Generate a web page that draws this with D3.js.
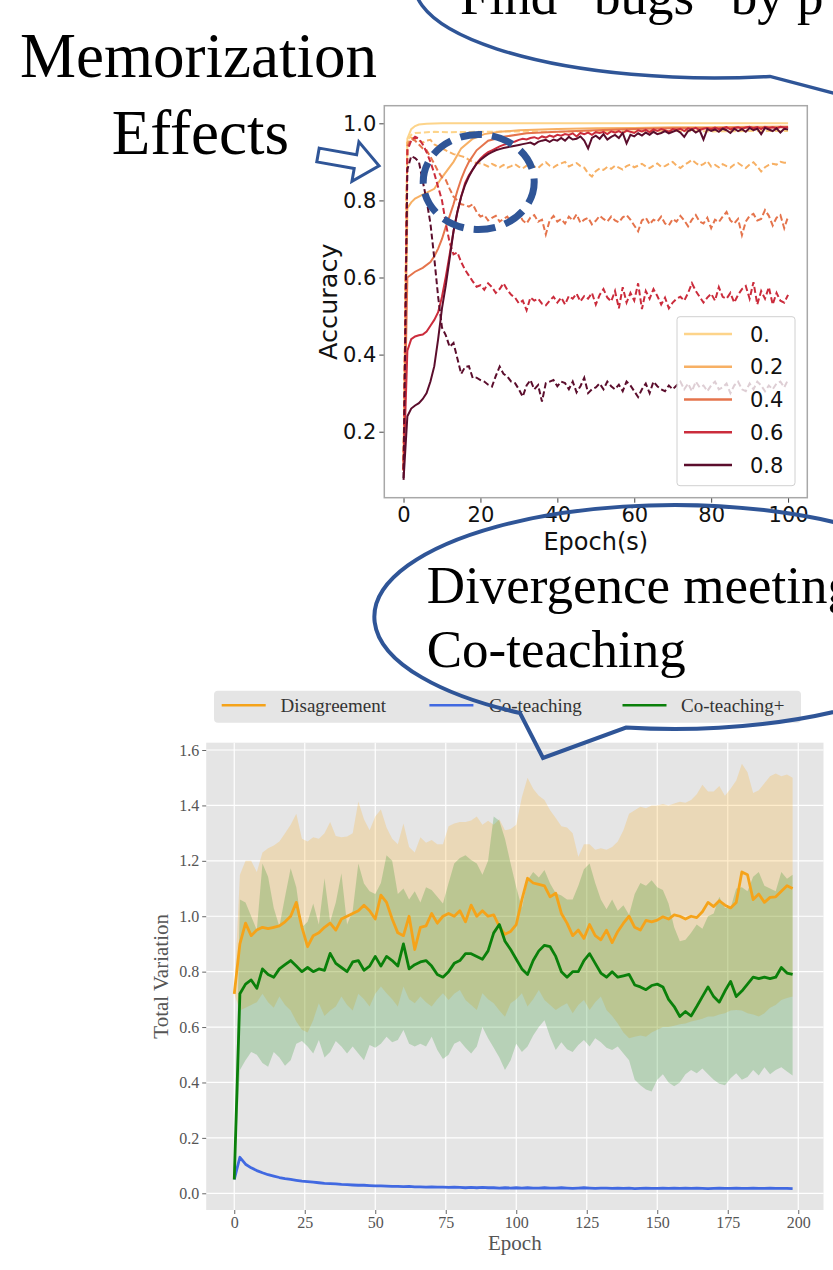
<!DOCTYPE html>
<html>
<head>
<meta charset="utf-8">
<script src="https://d3js.org/d3.v7.min.js"></script>
<style>
  body { margin: 0; background: #fff; }
  svg { display: block; }
</style>
</head>
<body>
<div id="slide"></div>
<script>
/*
 * Top plot: accuracy vs epoch for several noise rates (solid = train, dashed = test)
 */
var noiseRates = ["0.", "0.2", "0.4", "0.6", "0.8"];
var accTicksX = [0, 20, 40, 60, 80, 100];
var accTicksY = [0.2, 0.4, 0.6, 0.8, 1.0];

// sparse [epoch, accuracy] pairs for the smooth curves
var trainAcc00 = [[0,0.12],[1,0.96],[2,0.985],[3,0.993],[4,0.997],[6,0.999],[10,1.0],[100,1.0]];
var trainAcc02 = [[0,0.10],[1,0.78],[2,0.795],[3,0.805],[5,0.815],[8,0.83],[10,0.86],[13,0.90],[15,0.935],[18,0.96],[21,0.972],[25,0.978],[30,0.982],[40,0.985],[50,0.987],[60,0.988],[70,0.99],[80,0.99],[90,0.991],[100,0.992]];
var trainAcc04 = [[0,0.10],[1,0.60],[3,0.615],[5,0.625],[7,0.64],[8,0.655],[9,0.675],[10,0.70],[11,0.732],[12,0.76],[13,0.79],[14,0.825],[15,0.855],[16,0.88],[17,0.90],[19,0.93],[22,0.955],[26,0.965],[32,0.974],[40,0.978],[50,0.982],[60,0.985],[70,0.987],[80,0.988],[90,0.989],[100,0.99]];
var testAcc00 = [[0,0.12],[1,0.955],[2,0.97],[3,0.975],[5,0.976],[8,0.978],[12,0.977],[20,0.978],[30,0.979],[40,0.978],[50,0.98],[60,0.979],[70,0.98],[80,0.979],[90,0.98],[100,0.98]];

// one value per epoch (0..100)
var trainAcc06 = [0.10,0.41,0.44,0.447,0.45,0.452,0.46,0.475,0.49,0.51,0.55,
  0.602,0.66,0.72,0.77,0.81,0.845,0.865,0.88,0.896,0.908,
  0.918,0.925,0.93,0.935,0.94,0.944,0.947,0.95,0.953,0.957,
  0.96,0.958,0.962,0.964,0.96,0.966,0.963,0.968,0.965,0.97,
  0.968,0.972,0.97,0.974,0.966,0.975,0.972,0.976,0.97,0.977,
  0.975,0.978,0.972,0.979,0.976,0.98,0.974,0.981,0.978,0.975,
  0.982,0.979,0.983,0.977,0.984,0.98,0.985,0.982,0.978,0.985,
  0.983,0.986,0.98,0.987,0.984,0.988,0.982,0.986,0.988,0.984,
  0.989,0.985,0.987,0.99,0.984,0.988,0.99,0.986,0.989,0.991,
  0.987,0.99,0.985,0.991,0.988,0.99,0.987,0.991,0.989,0.99];
var trainAcc08 = [0.075,0.24,0.26,0.268,0.274,0.285,0.30,0.33,0.37,0.44,0.52,
  0.58,0.65,0.72,0.77,0.81,0.84,0.862,0.88,0.895,0.905,
  0.913,0.92,0.925,0.93,0.933,0.936,0.938,0.94,0.942,0.944,
  0.946,0.948,0.95,0.945,0.952,0.955,0.957,0.952,0.958,0.955,
  0.962,0.955,0.965,0.958,0.96,0.966,0.955,0.935,0.962,0.968,
  0.96,0.972,0.958,0.965,0.97,0.962,0.975,0.948,0.97,0.966,
  0.974,0.968,0.976,0.97,0.978,0.972,0.975,0.98,0.974,0.978,
  0.982,0.976,0.965,0.98,0.984,0.976,0.982,0.958,0.985,0.98,
  0.984,0.978,0.986,0.982,0.975,0.986,0.98,0.985,0.978,0.988,
  0.982,0.986,0.972,0.988,0.984,0.98,0.987,0.976,0.986,0.984];
var testAcc02 = [0.10,0.95,0.962,0.96,0.955,0.95,0.955,0.957,0.945,0.94,0.935,
  0.93,0.925,0.92,0.918,0.915,0.912,0.905,0.90,0.897,0.896,
  0.893,0.888,0.895,0.89,0.886,0.892,0.885,0.889,0.894,0.887,
  0.883,0.89,0.895,0.888,0.884,0.893,0.899,0.89,0.886,0.892,
  0.896,0.90,0.888,0.893,0.897,0.889,0.885,0.87,0.862,0.876,
  0.883,0.879,0.887,0.882,0.89,0.885,0.88,0.889,0.893,0.886,
  0.89,0.895,0.888,0.884,0.89,0.896,0.887,0.889,0.895,0.90,
  0.89,0.884,0.892,0.898,0.905,0.897,0.89,0.894,0.902,0.888,
  0.892,0.886,0.894,0.889,0.885,0.893,0.897,0.89,0.884,0.893,
  0.899,0.888,0.875,0.886,0.892,0.895,0.893,0.90,0.898,0.897];
var testAcc04 = [0.10,0.94,0.96,0.955,0.945,0.935,0.93,0.913,0.895,0.875,0.86,
  0.853,0.83,0.81,0.80,0.79,0.788,0.784,0.79,0.77,0.758,
  0.762,0.748,0.755,0.76,0.745,0.752,0.758,0.742,0.75,0.765,
  0.748,0.74,0.756,0.762,0.745,0.75,0.712,0.748,0.76,0.745,
  0.752,0.74,0.758,0.748,0.764,0.742,0.75,0.755,0.738,0.747,
  0.76,0.752,0.745,0.758,0.748,0.743,0.756,0.762,0.75,0.735,
  0.72,0.748,0.755,0.738,0.75,0.745,0.758,0.74,0.735,0.752,
  0.745,0.76,0.748,0.733,0.75,0.762,0.745,0.74,0.755,0.728,
  0.75,0.744,0.758,0.77,0.748,0.74,0.752,0.71,0.745,0.76,
  0.765,0.748,0.752,0.775,0.76,0.735,0.755,0.762,0.728,0.758];
var testAcc06 = [0.10,0.93,0.955,0.965,0.96,0.945,0.925,0.90,0.87,0.835,0.80,
  0.74,0.69,0.66,0.665,0.64,0.62,0.605,0.59,0.576,0.58,
  0.568,0.585,0.575,0.56,0.57,0.585,0.568,0.555,0.548,0.533,
  0.54,0.515,0.548,0.54,0.545,0.532,0.528,0.54,0.55,0.535,
  0.548,0.53,0.552,0.545,0.558,0.538,0.552,0.545,0.56,0.53,
  0.555,0.57,0.548,0.538,0.565,0.52,0.575,0.535,0.56,0.54,
  0.585,0.518,0.565,0.545,0.57,0.552,0.53,0.548,0.52,0.535,
  0.545,0.55,0.54,0.56,0.585,0.565,0.55,0.535,0.548,0.558,
  0.54,0.575,0.55,0.545,0.56,0.535,0.555,0.57,0.578,0.545,
  0.588,0.53,0.565,0.545,0.575,0.53,0.56,0.54,0.535,0.555];
var testAcc08 = [0.08,0.88,0.915,0.91,0.90,0.85,0.80,0.74,0.65,0.55,0.47,
  0.45,0.42,0.43,0.39,0.35,0.368,0.37,0.339,0.34,0.334,
  0.33,0.322,0.317,0.345,0.369,0.35,0.343,0.33,0.326,0.31,
  0.291,0.32,0.334,0.31,0.321,0.278,0.326,0.33,0.334,0.318,
  0.33,0.326,0.31,0.33,0.302,0.318,0.34,0.30,0.31,0.315,
  0.325,0.31,0.33,0.318,0.31,0.322,0.305,0.33,0.32,0.305,
  0.29,0.31,0.325,0.30,0.33,0.318,0.31,0.305,0.32,0.31,
  0.32,0.33,0.31,0.325,0.305,0.33,0.315,0.32,0.305,0.32,
  0.33,0.31,0.315,0.325,0.30,0.32,0.33,0.31,0.305,0.325,
  0.31,0.33,0.32,0.305,0.32,0.31,0.325,0.33,0.315,0.335];

var trainAcc = [trainAcc00, trainAcc02, trainAcc04, trainAcc06, trainAcc08];
var testAcc = [testAcc00, testAcc02, testAcc04, testAcc06, testAcc08];

/*
 * Bottom plot: total variation vs epoch (one value every 2 epochs, 0..198)
 */
var tvLabels = ["Disagreement", "Co-teaching", "Co-teaching+"];
var tvTicksX = [0, 25, 50, 75, 100, 125, 150, 175, 200];
var tvTicksY = [0.0, 0.2, 0.4, 0.6, 0.8, 1.0, 1.2, 1.4, 1.6];

var disagreeMean = [0.72,0.90,0.975,0.93,0.95,0.96,0.955,0.96,0.965,0.98,1.0,1.05,0.96,0.89,0.93,0.94,0.96,0.975,0.95,0.99,
  1.0,1.01,1.02,1.04,1.02,0.99,1.076,1.05,0.99,0.94,0.93,1.0,0.88,0.96,0.965,1.01,0.975,1.0,1.01,1.0,
  1.02,0.98,1.04,1.0,1.02,1.0,1.005,0.963,0.935,0.945,0.97,1.06,1.137,1.12,1.115,1.11,1.07,1.083,1.01,0.975,
  0.93,0.95,0.92,0.97,0.93,0.915,0.95,0.905,0.945,0.975,1.0,0.96,0.95,0.985,0.98,0.986,0.998,0.99,1.005,1.0,
  0.99,1.0,0.995,1.016,1.05,1.035,1.056,1.04,1.03,1.05,1.16,1.15,1.06,1.08,1.05,1.068,1.07,1.09,1.11,1.10];
var disagreeHigh = [0.72,1.15,1.20,1.20,1.16,1.23,1.245,1.255,1.27,1.30,1.33,1.37,1.28,1.27,1.285,1.28,1.30,1.34,1.29,1.285,
  1.288,1.30,1.414,1.35,1.31,1.36,1.385,1.32,1.28,1.26,1.335,1.25,1.23,1.285,1.265,1.275,1.26,1.26,1.325,1.335,
  1.34,1.34,1.346,1.36,1.33,1.345,1.33,1.35,1.31,1.315,1.33,1.43,1.50,1.46,1.435,1.42,1.383,1.355,1.325,1.32,
  1.30,1.215,1.26,1.26,1.24,1.245,1.24,1.25,1.27,1.31,1.37,1.383,1.395,1.39,1.40,1.40,1.405,1.40,1.407,1.413,
  1.41,1.42,1.44,1.475,1.45,1.45,1.47,1.435,1.46,1.49,1.55,1.52,1.445,1.455,1.48,1.505,1.515,1.505,1.512,1.50];
var disagreeLow = [0.72,0.66,0.67,0.68,0.69,0.72,0.69,0.67,0.71,0.68,0.66,0.62,0.59,0.58,0.625,0.686,0.64,0.66,0.674,0.71,
  0.68,0.66,0.72,0.70,0.674,0.72,0.746,0.722,0.70,0.674,0.746,0.70,0.686,0.71,0.69,0.674,0.70,0.722,0.698,0.72,
  0.734,0.698,0.68,0.662,0.722,0.70,0.686,0.66,0.637,0.686,0.70,0.722,0.674,0.70,0.734,0.698,0.68,0.662,0.675,0.686,
  0.65,0.68,0.698,0.662,0.69,0.71,0.662,0.64,0.613,0.58,0.56,0.565,0.57,0.565,0.58,0.59,0.60,0.60,0.605,0.61,
  0.613,0.62,0.625,0.63,0.638,0.638,0.645,0.65,0.66,0.662,0.66,0.65,0.645,0.638,0.65,0.67,0.68,0.698,0.705,0.71];

var coteachMean = [0.05,0.13,0.105,0.092,0.082,0.074,0.067,0.062,0.057,0.053,0.05,0.047,0.044,0.042,0.04,0.038,0.036,0.035,0.034,0.032,
  0.031,0.03,0.029,0.029,0.028,0.027,0.027,0.026,0.025,0.025,0.024,0.025,0.023,0.023,0.022,0.023,0.022,0.022,0.021,0.022,
  0.021,0.02,0.021,0.02,0.021,0.02,0.02,0.019,0.02,0.019,0.02,0.019,0.02,0.019,0.019,0.02,0.019,0.019,0.02,0.019,
  0.018,0.019,0.02,0.019,0.018,0.019,0.019,0.018,0.019,0.018,0.019,0.017,0.018,0.019,0.018,0.018,0.019,0.018,0.019,0.018,
  0.019,0.018,0.019,0.018,0.017,0.018,0.019,0.018,0.018,0.019,0.018,0.018,0.019,0.018,0.018,0.019,0.018,0.018,0.018,0.017];

var plusMean = [0.05,0.72,0.755,0.77,0.74,0.81,0.79,0.78,0.81,0.825,0.84,0.82,0.80,0.815,0.80,0.81,0.805,0.866,0.83,0.815,
  0.80,0.835,0.84,0.805,0.82,0.855,0.82,0.855,0.84,0.82,0.90,0.81,0.825,0.835,0.84,0.82,0.79,0.78,0.80,0.83,
  0.84,0.865,0.865,0.855,0.845,0.875,0.94,0.97,0.91,0.88,0.845,0.81,0.79,0.84,0.875,0.895,0.89,0.855,0.80,0.78,
  0.80,0.80,0.84,0.865,0.83,0.795,0.78,0.80,0.78,0.785,0.79,0.752,0.745,0.735,0.75,0.755,0.745,0.70,0.674,0.638,
  0.656,0.64,0.674,0.71,0.745,0.71,0.69,0.73,0.765,0.71,0.73,0.755,0.78,0.775,0.78,0.775,0.78,0.815,0.795,0.79];
var plusHigh = [0.05,1.06,1.05,1.0,0.95,1.19,1.143,1.03,0.963,1.07,1.173,1.105,0.96,0.98,1.046,0.97,1.137,0.98,1.05,1.155,
  0.97,1.02,1.19,1.118,1.09,1.08,1.12,1.22,1.20,1.08,1.10,1.06,1.09,1.05,1.105,1.095,1.07,1.046,1.12,1.19,
  1.21,1.22,1.203,1.19,1.15,1.20,1.36,1.345,1.28,1.19,1.105,1.03,1.13,1.16,1.14,1.167,1.118,1.083,1.075,1.06,
  1.06,1.11,1.17,1.19,1.12,1.06,1.025,1.06,1.02,1.04,1.005,1.08,1.12,1.11,1.13,1.105,1.095,1.046,0.96,0.91,
  0.915,0.94,0.97,0.955,1.0,1.01,1.07,1.03,1.03,1.10,1.105,1.09,1.143,1.16,1.11,1.10,1.09,1.16,1.135,1.15];
var plusLow = [0.05,0.445,0.48,0.51,0.50,0.47,0.457,0.51,0.49,0.46,0.48,0.54,0.55,0.53,0.505,0.553,0.49,0.51,0.55,0.53,
  0.505,0.53,0.505,0.48,0.535,0.525,0.54,0.565,0.545,0.553,0.589,0.54,0.53,0.54,0.53,0.565,0.517,0.485,0.50,0.54,
  0.55,0.525,0.505,0.53,0.60,0.56,0.525,0.49,0.445,0.48,0.54,0.51,0.53,0.57,0.60,0.625,0.565,0.517,0.545,0.52,
  0.51,0.535,0.553,0.53,0.56,0.545,0.525,0.517,0.53,0.505,0.48,0.41,0.39,0.375,0.367,0.41,0.43,0.40,0.386,0.40,
  0.43,0.445,0.433,0.45,0.43,0.41,0.395,0.39,0.415,0.433,0.41,0.42,0.445,0.425,0.455,0.43,0.445,0.455,0.44,0.425];

// colours (style, not data)
var rateColors = ["#fdd48a", "#f7b064", "#e5744c", "#cb2c3c", "#5b0d2c"];
var tvColors = ["#f5a31a", "#4169e1", "#0a800a"];
var calloutBlue = "#2f5597";

// ---------------------------------------------------------------
var svg = d3.select("#slide")
    .append("svg")
    .attr("width", 833)
    .attr("height", 1270);

svg.append("rect").attr("width", 833).attr("height", 1270).attr("fill", "#fff");

function toPoints(arr) {
    return arr.map(function (d, i) { return Array.isArray(d) ? d : [i, d]; });
}

/*
 * Accuracy plot
 */
var acc = { left: 384.3, right: 807.3, top: 105.7, bottom: 497.7 };
var xA = d3.scaleLinear().domain([-5, 105]).range([acc.left, acc.right]);
var yA = d3.scaleLinear().domain([0.0288, 1.0457]).range([acc.bottom, acc.top]);
var gA = svg.append("g");

var lineA = d3.line()
    .x(function (d) { return xA(d[0]); })
    .y(function (d) { return yA(d[1]); });

noiseRates.forEach(function (r, k) {
    gA.append("path")
        .attr("d", lineA(toPoints(trainAcc[k])))
        .attr("fill", "none")
        .attr("stroke", rateColors[k])
        .attr("stroke-width", 2);
    gA.append("path")
        .attr("d", lineA(toPoints(testAcc[k])))
        .attr("fill", "none")
        .attr("stroke", rateColors[k])
        .attr("stroke-width", 2)
        .attr("stroke-dasharray", "6,3");
});

// axes
var axXA = gA.append("g")
    .attr("transform", "translate(0," + acc.bottom + ")")
    .call(d3.axisBottom(xA).tickValues(accTicksX).tickSize(5).tickPadding(4).tickSizeOuter(0));
var axYA = gA.append("g")
    .attr("transform", "translate(" + acc.left + ",0)")
    .call(d3.axisLeft(yA).tickValues(accTicksY).tickFormat(d3.format(".1f")).tickSize(5).tickPadding(3).tickSizeOuter(0));
[axXA, axYA].forEach(function (a) {
    a.select(".domain").remove();
    a.selectAll("line").attr("stroke", "#444");
    a.selectAll("text")
        .style("font-family", "DejaVu Sans")
        .style("font-size", "21px")
        .attr("fill", "#111");
});

// frame
gA.append("rect")
    .attr("x", acc.left).attr("y", acc.top)
    .attr("width", acc.right - acc.left).attr("height", acc.bottom - acc.top)
    .attr("fill", "none").attr("stroke", "#a8a8a8").attr("stroke-width", 1.5);

// axis labels
gA.append("text")
    .attr("x", (acc.left + acc.right) / 2).attr("y", 550)
    .attr("text-anchor", "middle")
    .style("font-family", "DejaVu Sans").style("font-size", "24px")
    .attr("fill", "#111")
    .text("Epoch(s)");
gA.append("text")
    .attr("transform", "translate(337," + (acc.top + acc.bottom) / 2 + ") rotate(-90)")
    .attr("text-anchor", "middle")
    .style("font-family", "DejaVu Sans").style("font-size", "25.5px")
    .attr("fill", "#111")
    .text("Accuracy");

// legend
var legA = gA.append("g");
legA.append("rect")
    .attr("x", 677).attr("y", 316.7).attr("width", 118).attr("height", 169)
    .attr("rx", 3)
    .attr("fill", "#fff").attr("fill-opacity", 0.8)
    .attr("stroke", "#d0d0d0");
noiseRates.forEach(function (r, k) {
    var ly = 334 + k * 32.75;
    legA.append("line")
        .attr("x1", 684).attr("x2", 732).attr("y1", ly).attr("y2", ly)
        .attr("stroke", rateColors[k]).attr("stroke-width", 2.5);
    legA.append("text")
        .attr("x", 750).attr("y", ly)
        .attr("dy", "0.36em")
        .style("font-family", "DejaVu Sans").style("font-size", "21px")
        .attr("fill", "#111")
        .text(r);
});

/*
 * Total variation plot
 */
var tv = { left: 206.2, right: 823.5, top: 742.7, bottom: 1210 };
var xB = d3.scaleLinear().domain([-9.95, 208.95]).range([tv.left, tv.right]);
var yB = d3.scaleLinear().domain([-0.0603, 1.6264]).range([tv.bottom, tv.top]);
var gB = svg.append("g");

gB.append("rect")
    .attr("x", tv.left).attr("y", tv.top)
    .attr("width", tv.right - tv.left).attr("height", tv.bottom - tv.top)
    .attr("fill", "#e5e5e5");

// grid
gB.selectAll(".vgrid").data(tvTicksX).enter().append("line")
    .attr("x1", function (d) { return xB(d); }).attr("x2", function (d) { return xB(d); })
    .attr("y1", tv.top).attr("y2", tv.bottom)
    .attr("stroke", "#fff").attr("stroke-width", 1.2);
gB.selectAll(".hgrid").data(tvTicksY).enter().append("line")
    .attr("y1", function (d) { return yB(d); }).attr("y2", function (d) { return yB(d); })
    .attr("x1", tv.left).attr("x2", tv.right)
    .attr("stroke", "#fff").attr("stroke-width", 1.2);

function bandData(lo, hi) {
    return lo.map(function (v, i) { return { e: i * 2, lo: v, hi: hi[i] }; });
}
var areaB = d3.area()
    .x(function (d) { return xB(d.e); })
    .y0(function (d) { return yB(d.lo); })
    .y1(function (d) { return yB(d.hi); });
var lineB = d3.line()
    .x(function (d, i) { return xB(i * 2); })
    .y(function (d) { return yB(d); });

gB.append("path").attr("d", areaB(bandData(disagreeLow, disagreeHigh)))
    .attr("fill", "#ffa500").attr("fill-opacity", 0.2);
gB.append("path").attr("d", areaB(bandData(plusLow, plusHigh)))
    .attr("fill", "#008000").attr("fill-opacity", 0.2);

[disagreeMean, coteachMean, plusMean].forEach(function (s, k) {
    gB.append("path")
        .attr("d", lineB(s))
        .attr("fill", "none")
        .attr("stroke", tvColors[k])
        .attr("stroke-width", 2.8)
        .attr("stroke-linejoin", "round");
});

var axXB = gB.append("g")
    .attr("transform", "translate(0," + tv.bottom + ")")
    .call(d3.axisBottom(xB).tickValues(tvTicksX).tickSize(4).tickPadding(3).tickSizeOuter(0));
var axYB = gB.append("g")
    .attr("transform", "translate(" + tv.left + ",0)")
    .call(d3.axisLeft(yB).tickValues(tvTicksY).tickFormat(d3.format(".1f")).tickSize(4).tickPadding(3).tickSizeOuter(0));
[axXB, axYB].forEach(function (a) {
    a.select(".domain").remove();
    a.selectAll("line").attr("stroke", "#666");
    a.selectAll("text")
        .style("font-family", "Liberation Serif")
        .style("font-size", "16px")
        .attr("fill", "#555");
});

gB.append("text")
    .attr("x", (tv.left + tv.right) / 2).attr("y", 1250)
    .attr("text-anchor", "middle")
    .style("font-family", "Liberation Serif").style("font-size", "21px")
    .attr("fill", "#555")
    .text("Epoch");
gB.append("text")
    .attr("transform", "translate(168," + (tv.top + tv.bottom) / 2 + ") rotate(-90)")
    .attr("text-anchor", "middle")
    .style("font-family", "Liberation Serif").style("font-size", "21px")
    .attr("fill", "#555")
    .text("Total Variation");

// legend on top
var legB = gB.append("g");
legB.append("rect")
    .attr("x", 214).attr("y", 690.7).attr("width", 587).attr("height", 32)
    .attr("rx", 4).attr("fill", "#e5e5e5");
var legBLine = [221.7, 429.4, 622.5];
var legBText = [280.5, 489, 681];
tvLabels.forEach(function (t, k) {
    legB.append("line")
        .attr("x1", legBLine[k]).attr("x2", legBLine[k] + 44)
        .attr("y1", 705.3).attr("y2", 705.3)
        .attr("stroke", tvColors[k]).attr("stroke-width", 2.5);
    legB.append("text")
        .attr("x", legBText[k]).attr("y", 705.3).attr("dy", "0.33em")
        .style("font-family", "Liberation Serif").style("font-size", "19px")
        .attr("fill", "#333")
        .text(t);
});

/*
 * Slide annotations
 */
var serif = "Liberation Serif";
svg.append("text").attr("x", 20).attr("y", 77.3)
    .style("font-family", serif).style("font-size", "63px").attr("fill", "#000")
    .text("Memorization");
svg.append("text").attr("x", 111.7).attr("y", 154.3)
    .style("font-family", serif).style("font-size", "63px").attr("fill", "#000")
    .text("Effects");
svg.append("text").attr("x", 460).attr("y", 13.5)
    .style("font-family", serif).style("font-size", "53px").attr("fill", "#000")
    .text("Find \u201cbugs\u201d by p");
svg.append("text").attr("x", 426.7).attr("y", 603.3)
    .style("font-family", serif).style("font-size", "53px").attr("fill", "#000")
    .text("Divergence meeting");
svg.append("text").attr("x", 426.7).attr("y", 666.7)
    .style("font-family", serif).style("font-size", "53px").attr("fill", "#000")
    .text("Co-teaching");

// callout bubbles
svg.append("path")
    .attr("d", "M 850 68 A 300 93 0 1 0 770 76.4 L 905 112 Z")
    .attr("fill", "none").attr("stroke", calloutBlue).attr("stroke-width", 3.5)
    .attr("stroke-linejoin", "miter");
svg.append("path")
    .attr("d", "M 626 727.5 A 300 112 0 1 0 520 713 L 543 758 Z")
    .attr("fill", "none").attr("stroke", calloutBlue).attr("stroke-width", 4)
    .attr("stroke-linejoin", "miter");

// hollow block arrow
svg.append("polygon")
    .attr("points", "0,-7 38,-7 38,-20 62,0 38,20 38,7 0,7")
    .attr("transform", "translate(318,155) rotate(10)")
    .attr("fill", "#fff").attr("stroke", calloutBlue).attr("stroke-width", 3)
    .attr("stroke-linejoin", "miter");

// dashed highlight circle
svg.append("ellipse")
    .attr("cx", 478.7).attr("cy", 182).attr("rx", 55.5).attr("ry", 47.5)
    .attr("fill", "none").attr("stroke", calloutBlue).attr("stroke-width", 7)
    .attr("stroke-dasharray", "22,10");
</script>
</body>
</html>
